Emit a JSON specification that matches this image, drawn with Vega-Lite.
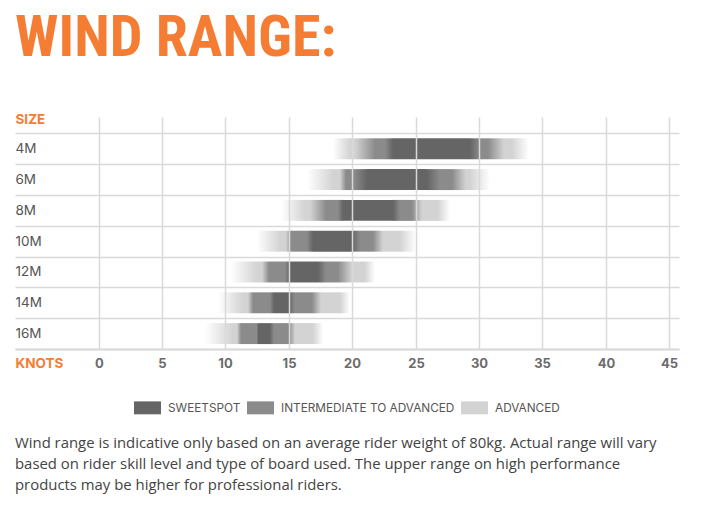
{
  "$schema": "https://vega.github.io/schema/vega-lite/v6.json",
  "background": "white",
  "padding": {"left": 15, "top": 10, "right": 12, "bottom": 8},
  "title": {
    "text": "WIND RANGE:",
    "anchor": "start",
    "frame": "group",
    "font": "Liberation Sans Narrow, Roboto Condensed, DejaVu Sans Condensed, sans-serif",
    "fontSize": 58,
    "fontWeight": "bold",
    "color": "#F57D33",
    "offset": 42
  },
  "resolve": {"legend": {"color": "independent"}, "scale": {"color": "independent"}},
  "vconcat": [
    {
      "width": 664,
      "height": 232,
      "data": {
        "values": [
          {"size": "4M", "fadeStart": 18.5, "advStart": 19.8, "intRampStart": 20.2, "intStart": 21.8, "sweetRampStart": 22.6, "sweetStart": 23.2, "sweetEnd": 29.3, "sweetRampEnd": 30.1, "intEnd": 30.7, "intRampEnd": 32.0, "advEnd": 32.6, "fadeEnd": 33.9},
          {"size": "6M", "fadeStart": 16.4, "advStart": 18.5, "intRampStart": 19.0, "intStart": 19.5, "sweetRampStart": 20.1, "sweetStart": 21.2, "sweetEnd": 25.9, "sweetRampEnd": 26.9, "intEnd": 27.9, "intRampEnd": 29.0, "advEnd": 29.3, "fadeEnd": 30.9},
          {"size": "8M", "fadeStart": 14.4, "advStart": 16.3, "intRampStart": 16.7, "intStart": 17.9, "sweetRampStart": 18.9, "sweetStart": 19.3, "sweetEnd": 23.2, "sweetRampEnd": 23.8, "intEnd": 24.7, "intRampEnd": 25.5, "advEnd": 26.8, "fadeEnd": 27.7},
          {"size": "10M", "fadeStart": 12.5, "advStart": 14.3, "intRampStart": 14.8, "intStart": 15.2, "sweetRampStart": 16.4, "sweetStart": 16.9, "sweetEnd": 19.95, "sweetRampEnd": 20.6, "intEnd": 21.6, "intRampEnd": 22.4, "advEnd": 23.8, "fadeEnd": 25.0},
          {"size": "12M", "fadeStart": 10.4, "advStart": 12.5, "intRampStart": 12.9, "intStart": 13.4, "sweetRampStart": 14.7, "sweetStart": 15.1, "sweetEnd": 17.3, "sweetRampEnd": 17.9, "intEnd": 18.9, "intRampEnd": 19.95, "advEnd": 21.0, "fadeEnd": 21.8},
          {"size": "14M", "fadeStart": 9.4, "advStart": 11.4, "intRampStart": 11.8, "intStart": 12.2, "sweetRampStart": 13.5, "sweetStart": 13.8, "sweetEnd": 15.0, "sweetRampEnd": 15.5, "intEnd": 16.8, "intRampEnd": 17.5, "advEnd": 19.0, "fadeEnd": 19.8},
          {"size": "16M", "fadeStart": 8.4, "advStart": 10.6, "intRampStart": 10.9, "intStart": 11.2, "sweetRampStart": 12.5, "sweetStart": 12.6, "sweetEnd": 13.5, "sweetRampEnd": 13.8, "intEnd": 15.0, "intRampEnd": 15.5, "advEnd": 16.9, "fadeEnd": 17.7}
        ]
      },
      "title": {
        "text": [
          "Wind range is indicative only based on an average rider weight of 80kg. Actual range will vary",
          "based on rider skill level and type of board used. The upper range on high performance",
          "products may be higher for professional riders."
        ],
        "orient": "bottom",
        "anchor": "start",
        "frame": "group",
        "font": "Open Sans",
        "fontSize": 14.9,
        "fontWeight": "normal",
        "lineHeight": 21,
        "color": "#444444",
        "offset": 21
      },
      "encoding": {
        "y": {
          "field": "size",
          "type": "nominal",
          "sort": ["4M", "6M", "8M", "10M", "12M", "14M", "16M"],
          "title": "SIZE",
          "scale": {"paddingInner": 0, "paddingOuter": 0.266, "align": 1},
          "axis": {
            "ticks": false,
            "tickSize": 0,
            "domain": false,
            "grid": true,
            "tickBand": "extent",
            "gridColor": "#d9d9d9",
            "gridWidth": 1.5,
            "labelAlign": "left",
            "labelPadding": 0,
            "labelBaseline": "middle",
            "labelFont": "Inter",
            "labelFontSize": 13.5,
            "labelColor": "#555555",
            "titleAngle": 0,
            "titleAlign": "left",
            "titleBaseline": "middle",
            "titleX": 0,
            "titleY": 2.5,
            "titleFont": "Inter",
            "titleFontSize": 13.5,
            "titleFontWeight": "bold",
            "titleColor": "#F57D33",
            "zindex": 1
          }
        }
      },
      "layer": [
        {
          "mark": {"type": "bar", "height": {"band": 0.68}, "color": {"gradient": "linear", "x1": 0, "y1": 0, "x2": 1, "y2": 0, "stops": [{"offset": 0, "color": "#ffffff"}, {"offset": 1, "color": "#d3d3d3"}]}},
          "encoding": {
            "x": {
              "field": "fadeStart",
              "type": "quantitative",
              "title": "KNOTS",
              "scale": {"domain": [-6.6, 45.77], "nice": false, "zero": false, "round": true},
              "axis": {
                "values": [0, 5, 10, 15, 20, 25, 30, 35, 40, 45],
                "ticks": false,
                "tickSize": 0,
                "domainColor": "#d9d9d9",
                "domainWidth": 2,
                "gridColor": "#d9d9d9",
                "gridWidth": 1.5,
                "labelFont": "Inter",
                "labelFontWeight": "bold",
                "labelFontSize": 13,
                "labelColor": "#6b6b6b",
                "labelPadding": 14,
                "labelBaseline": "middle",
                "labelFlush": false,
                "labelOverlap": false,
                "titleX": 0,
                "titleY": 14,
                "titleAlign": "left",
                "titleBaseline": "middle",
                "titleFont": "Inter",
                "titleFontSize": 13.5,
                "titleFontWeight": "bold",
                "titleColor": "#F57D33",
                "zindex": 1
              }
            },
            "x2": {"field": "advStart"}
          }
        },
        {
          "mark": {"type": "bar", "height": {"band": 0.68}},
          "encoding": {
            "x": {"field": "advStart", "type": "quantitative", "title": "KNOTS"},
            "x2": {"field": "intRampStart"},
            "color": {
              "datum": "ADVANCED",
              "type": "nominal",
              "title": null,
              "scale": {"domain": ["SWEETSPOT", "INTERMEDIATE TO ADVANCED", "ADVANCED"], "range": ["#656565", "#8b8b8b", "#d3d3d3"]},
              "legend": {
                "orient": "bottom",
                "direction": "horizontal",
                "symbolType": "M-1,-0.48H1V0.48H-1Z",
                "symbolSize": 729,
                "symbolStrokeWidth": 0,
                "symbolOpacity": 1,
                "labelFont": "Inter",
                "labelFontSize": 11.8,
                "labelColor": "#555555",
                "labelLimit": 0,
                "labelOffset": 7,
                "columnPadding": 6,
                "offset": 24
              }
            }
          }
        },
        {
          "mark": {"type": "bar", "height": {"band": 0.68}, "color": {"gradient": "linear", "x1": 0, "y1": 0, "x2": 1, "y2": 0, "stops": [{"offset": 0, "color": "#d3d3d3"}, {"offset": 1, "color": "#8b8b8b"}]}},
          "encoding": {
            "x": {"field": "intRampStart", "type": "quantitative", "title": "KNOTS"},
            "x2": {"field": "intStart"}
          }
        },
        {
          "mark": {"type": "bar", "height": {"band": 0.68}},
          "encoding": {
            "x": {"field": "intStart", "type": "quantitative", "title": "KNOTS"},
            "x2": {"field": "sweetRampStart"},
            "color": {"datum": "INTERMEDIATE TO ADVANCED", "type": "nominal", "title": null}
          }
        },
        {
          "mark": {"type": "bar", "height": {"band": 0.68}, "color": {"gradient": "linear", "x1": 0, "y1": 0, "x2": 1, "y2": 0, "stops": [{"offset": 0, "color": "#8b8b8b"}, {"offset": 1, "color": "#656565"}]}},
          "encoding": {
            "x": {"field": "sweetRampStart", "type": "quantitative", "title": "KNOTS"},
            "x2": {"field": "sweetStart"}
          }
        },
        {
          "mark": {"type": "bar", "height": {"band": 0.68}},
          "encoding": {
            "x": {"field": "sweetStart", "type": "quantitative", "title": "KNOTS"},
            "x2": {"field": "sweetEnd"},
            "color": {"datum": "SWEETSPOT", "type": "nominal", "title": null}
          }
        },
        {
          "mark": {"type": "bar", "height": {"band": 0.68}, "color": {"gradient": "linear", "x1": 0, "y1": 0, "x2": 1, "y2": 0, "stops": [{"offset": 0, "color": "#656565"}, {"offset": 1, "color": "#8b8b8b"}]}},
          "encoding": {
            "x": {"field": "sweetEnd", "type": "quantitative", "title": "KNOTS"},
            "x2": {"field": "sweetRampEnd"}
          }
        },
        {
          "mark": {"type": "bar", "height": {"band": 0.68}},
          "encoding": {
            "x": {"field": "sweetRampEnd", "type": "quantitative", "title": "KNOTS"},
            "x2": {"field": "intEnd"},
            "color": {"datum": "INTERMEDIATE TO ADVANCED", "type": "nominal", "title": null}
          }
        },
        {
          "mark": {"type": "bar", "height": {"band": 0.68}, "color": {"gradient": "linear", "x1": 0, "y1": 0, "x2": 1, "y2": 0, "stops": [{"offset": 0, "color": "#8b8b8b"}, {"offset": 1, "color": "#d3d3d3"}]}},
          "encoding": {
            "x": {"field": "intEnd", "type": "quantitative", "title": "KNOTS"},
            "x2": {"field": "intRampEnd"}
          }
        },
        {
          "mark": {"type": "bar", "height": {"band": 0.68}},
          "encoding": {
            "x": {"field": "intRampEnd", "type": "quantitative", "title": "KNOTS"},
            "x2": {"field": "advEnd"},
            "color": {"datum": "ADVANCED", "type": "nominal", "title": null}
          }
        },
        {
          "mark": {"type": "bar", "height": {"band": 0.68}, "color": {"gradient": "linear", "x1": 0, "y1": 0, "x2": 1, "y2": 0, "stops": [{"offset": 0, "color": "#d3d3d3"}, {"offset": 1, "color": "#ffffff"}]}},
          "encoding": {
            "x": {"field": "advEnd", "type": "quantitative", "title": "KNOTS"},
            "x2": {"field": "fadeEnd"}
          }
        }
      ]
    }
  ],
  "config": {
    "view": {"stroke": null},
    "font": "Inter",
    "legend": {"layout": {"bottom": {"anchor": "middle"}}}
  }
}
